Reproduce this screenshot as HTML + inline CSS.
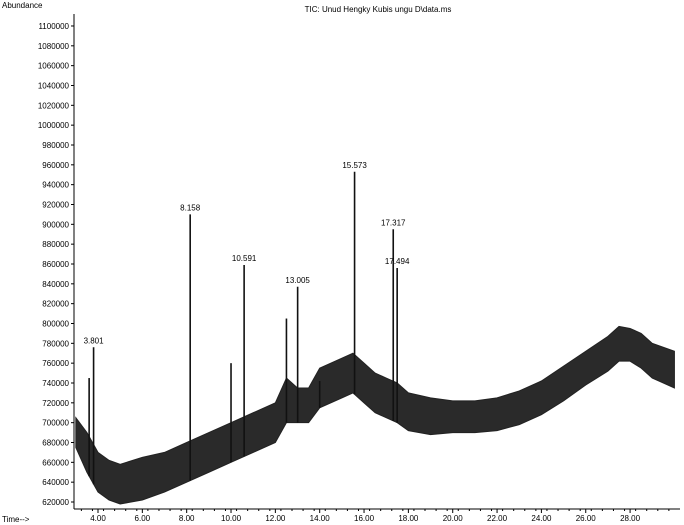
<!DOCTYPE html>
<html><head><meta charset="utf-8"><style>
body{margin:0;background:#fff;}
svg{display:block;font-family:"Liberation Sans",sans-serif;}
</style></head><body>
<svg id="c" width="684" height="525" viewBox="0 0 684 525">
<text x="2" y="8" font-size="8">Abundance</text>
<text x="378" y="12" font-size="8" text-anchor="middle">TIC: Unud Hengky Kubis ungu D\data.ms</text>
<text x="2" y="522" font-size="8">Time--&gt;</text>
<g id="axes"></g><g id="plot"></g>
</svg>
<script>
const yTicks=[620,640,660,680,700,720,740,760,780,800,820,840,860,880,900,920,940,960,980,1000,1020,1040,1060,1080,1100];
const xTicks=[4,6,8,10,12,14,16,18,20,22,24,26,28];
const times=[3.0,3.5,4.0,4.5,5,6,7,8,9,10,11,12,12.5,13,13.5,14,15,15.5,16,16.5,17,17.5,18,19,20,21,22,23,24,25,26,27,27.5,28,28.5,29,30];
const upper=[705,690,670,662,658,665,670,680,690,700,710,720,745,735,735,755,765,770,760,750,745,740,730,725,722,722,725,732,742,757,772,787,797,795,790,780,772];
const lower=[675,650,630,622,618,622,630,640,650,660,670,680,700,700,700,715,725,730,720,710,705,700,692,688,690,690,692,698,708,722,738,752,762,762,755,745,735];
const peakTimes=[3.6,3.801,8.158,10.0,10.591,12.5,13.005,14.0,15.573,17.317,17.494];
const peakValues=[745,776,910,760,859,805,837,742,953,895,856];
const peakLabels=["","3.801","8.158","","10.591","","13.005","","15.573","17.317","17.494"];
const NS="http://www.w3.org/2000/svg";
const X=t=>98+(t-4)*22.17, Y=v=>502-(v-620)*0.9917;
const ax=document.getElementById('axes'), pl=document.getElementById('plot');
function mk(p,tag,a){const e=document.createElementNS(NS,tag);for(const k in a)e.setAttribute(k,a[k]);p.appendChild(e);return e;}
const yl=mk(ax,'line',{x1:74,y1:14,x2:74,y2:509,stroke:'#000','stroke-width':1});


const xl=mk(ax,'line',{x1:74,y1:509,x2:680,y2:509,stroke:'#000','stroke-width':1});


yTicks.forEach(v=>{const y=Y(v);mk(ax,'line',{x1:71,y1:y,x2:74,y2:y,stroke:'#000'});
 const t=mk(ax,'text',{x:69,y:y+3,'font-size':8,'text-anchor':'end'});t.textContent=String(v*1000);
 
 });
for(let t=3.25;t<30;t+=0.5){const x=X(t);if(x>680)break;mk(ax,'line',{x1:x,y1:509,x2:x,y2:511,stroke:'#000'});}
xTicks.forEach(v=>{const x=X(v);mk(ax,'line',{x1:x,y1:509,x2:x,y2:513,stroke:'#000'});
 const t=mk(ax,'text',{x:x,y:521,'font-size':8,'text-anchor':'middle'});t.textContent=v.toFixed(2);
 
 });
let pts=times.map((t,i)=>X(t)+','+Y(upper[i])).join(' ')+' '+times.map((t,i)=>X(t)+','+Y(lower[i])).reverse().join(' ');
const band=mk(pl,'polygon',{points:pts,fill:'#2a2a2a',stroke:'#222','stroke-width':1});


function base(t){for(let i=1;i<times.length;i++)if(t<=times[i]){const f=(t-times[i-1])/(times[i]-times[i-1]);return (lower[i-1]+(lower[i]-lower[i-1])*f);}return lower[lower.length-1];}
peakTimes.forEach((t,i)=>{const x=X(t);
 const l=mk(pl,'line',{x1:x,y1:Y(base(t)),x2:x,y2:Y(peakValues[i]),stroke:'#111','stroke-width':1.6});
 
 
 if(peakLabels[i]){const tx=mk(pl,'text',{x:x,y:Y(peakValues[i])-4,'font-size':8,'text-anchor':'middle'});tx.textContent=peakLabels[i];
 
 }});
</script>
</body></html>
